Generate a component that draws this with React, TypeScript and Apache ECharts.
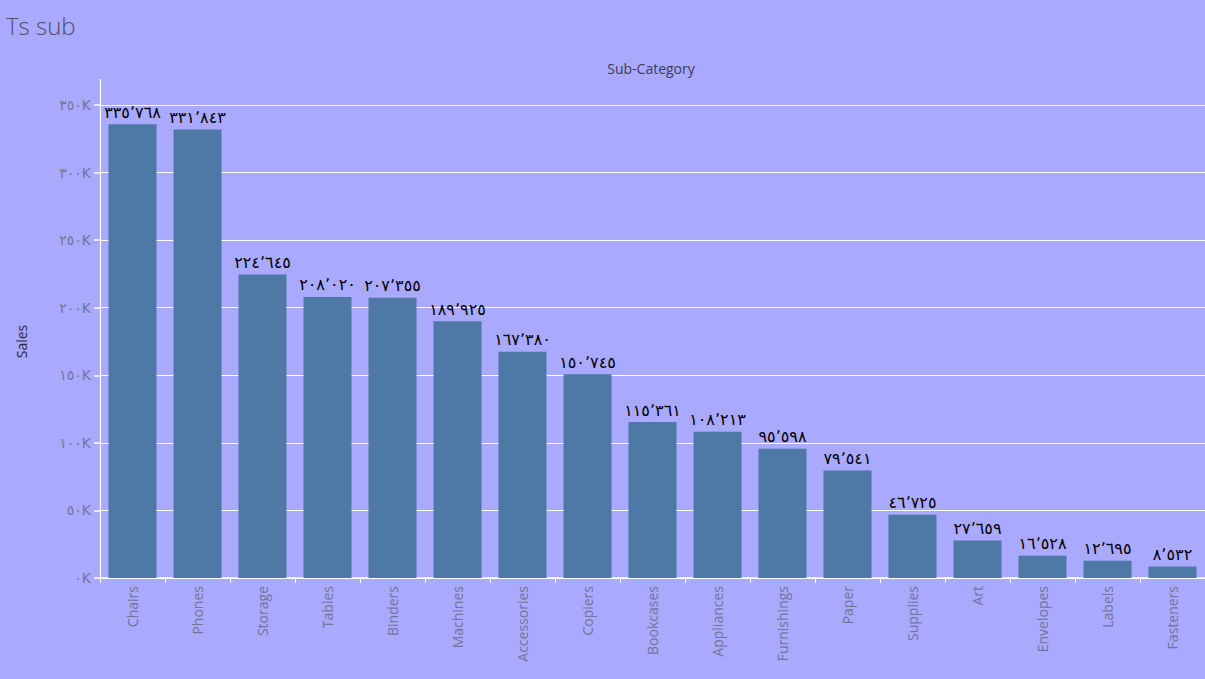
import React, { useEffect, useRef } from "react";
import * as echarts from "echarts";

const categories = [
  "Chairs", "Phones", "Storage", "Tables", "Binders", "Machines", "Accessories",
  "Copiers", "Bookcases", "Appliances", "Furnishings", "Paper", "Supplies", "Art",
  "Envelopes", "Labels", "Fasteners",
];
const sales = [
  335768, 331843, 224645, 208020, 207355, 189925, 167380,
  150745, 115361, 108213, 95598, 79541, 46725, 27659,
  16528, 12695, 8532,
];
const yTicks = [0, 50000, 100000, 150000, 200000, 250000, 300000, 350000];

const AR = "٠١٢٣٤٥٦٧٨٩";
const toArabic = (s: string) => s.replace(/[0-9]/g, (d) => AR[+d]);
const fmtThousands = (v: number) =>
  toArabic(String(Math.round(v)).replace(/\B(?=(\d{3})+(?!\d))/g, "\u066C"));

export default function App() {
  const ref = useRef<HTMLDivElement>(null);
  useEffect(() => {
    if (!ref.current) return;
    const chart = echarts.init(ref.current, null, { renderer: "svg" });
    chart.setOption({
      animation: false,
      backgroundColor: "#a9a9fd",
      title: {
        text: "Ts sub",
        left: 6,
        top: 13,
        padding: 0,
        textStyle: { fontFamily: "Open Sans", fontWeight: 300, fontSize: 24, color: "#50506a" },
      },
      graphic: [
        {
          type: "text",
          x: 651,
          y: 61,
          style: {
            text: "Sub-Category",
            fontFamily: "Open Sans",
            fontSize: 14,
            fill: "#3c3c5a",
            align: "center",
          },
        },
        {
          type: "line",
          shape: { x1: 100.5, y1: 79, x2: 100.5, y2: 106 },
          style: { stroke: "#ffffff", lineWidth: 1.2 },
        },
      ],
      grid: { left: 100, right: 0, top: 105, bottom: 101, containLabel: false },
      xAxis: {
        type: "category",
        data: categories,
        axisLine: { lineStyle: { color: "#ffffff", width: 1.5 } },
        axisTick: { show: true, length: 5, lineStyle: { color: "#ffffff" } },
        axisLabel: {
          rotate: 90,
          margin: 8,
          fontFamily: "Open Sans",
          fontSize: 14,
          color: "#74749a",
        },
      },
      yAxis: {
        type: "value",
        min: 0,
        max: 350000,
        interval: 50000,
        name: "Sales",
        nameLocation: "middle",
        nameGap: 72,
        nameTextStyle: { fontFamily: "Open Sans", fontSize: 14, color: "#2a2a40" },
        axisLine: { show: true, lineStyle: { color: "#ffffff", width: 1.2 } },
        axisTick: { show: true, length: 6, lineStyle: { color: "#ffffff", width: 1.5 } },
        splitLine: { show: true, lineStyle: { color: "#ffffff", width: 1 } },
        axisLabel: {
          margin: 9,
          fontFamily: "DejaVu Sans",
          fontSize: 14,
          color: "#74749a",
          formatter: (v: number) => (yTicks.includes(v) ? toArabic(String(v / 1000)) + "K" : ""),
        },
      },
      series: [
        {
          type: "bar",
          data: sales,
          barWidth: 48,
          itemStyle: { color: "#4e79a7" },
          label: {
            show: true,
            position: "top",
            distance: 4,
            fontFamily: "DejaVu Sans",
            fontSize: 16,
            color: "#000000",
            formatter: (p: any) => fmtThousands(p.value),
          },
        },
      ],
    });
    return () => chart.dispose();
  }, []);
  return (
    <div
      ref={ref}
      style={{ position: "fixed", left: 0, top: 0, width: 1205, height: 679 }}
    />
  );
}
